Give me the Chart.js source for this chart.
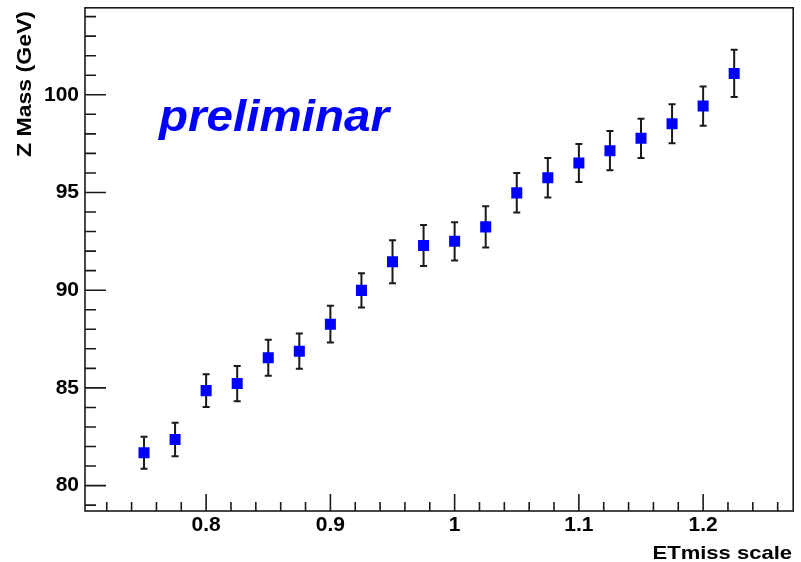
<!DOCTYPE html>
<html>
<head>
<meta charset="utf-8">
<script src="https://cdn.jsdelivr.net/npm/chart.js@4/dist/chart.umd.min.js"></script>
<style>
  html, body { margin: 0; padding: 0; background: #fff; }
  #wrap { width: 801px; height: 562px; position: relative; }
</style>
</head>
<body>
<div id="wrap"><canvas id="c"></canvas></div>
<script>
// ETmiss scale factor vs. fitted Z mass
const etmissScale = [0.75, 0.775, 0.8, 0.825, 0.85, 0.875, 0.9, 0.925, 0.95, 0.975,
                     1.0, 1.025, 1.05, 1.075, 1.1, 1.125, 1.15, 1.175, 1.2, 1.225];
const zMass = [81.68, 82.36, 84.86, 85.22, 86.54, 86.88, 88.26, 89.99, 91.46, 92.29,
               92.50, 93.24, 94.98, 95.75, 96.51, 97.14, 97.77, 98.52, 99.42, 101.09];
const zMassErr = [0.82, 0.86, 0.84, 0.90, 0.92, 0.90, 0.94, 0.87, 1.10, 1.05,
                  0.98, 1.05, 1.01, 1.01, 0.97, 1.00, 1.00, 1.00, 1.00, 1.21];

const xTickValues = [0.8, 0.9, 1, 1.1, 1.2];
const yTickValues = [80, 85, 90, 95, 100];

const xTitle = 'ETmiss scale';
const yTitle = 'Z Mass (GeV)';
const stampText = 'preliminar';

const FONT = '"Liberation Sans", Arial, Helvetica, sans-serif';
const INK = '#1a1a1a';

// draw text squeezed/stretched to a given width
function drawFitted(ctx, text, font, x, y, width, color) {
  ctx.save();
  ctx.font = font;
  ctx.fillStyle = color;
  ctx.textAlign = 'left';
  ctx.textBaseline = 'alphabetic';
  const w = ctx.measureText(text).width;
  ctx.translate(x, y);
  ctx.scale(width / w, 1);
  ctx.fillText(text, 0, 0);
  ctx.restore();
}

const errorBars = {
  id: 'errorBars',
  beforeDatasetsDraw(chart) {
    const { ctx, scales: { x, y } } = chart;
    ctx.save();
    ctx.strokeStyle = INK;
    ctx.lineWidth = 2;
    const cap = 3.5;
    etmissScale.forEach((xv, i) => {
      const px = x.getPixelForValue(xv);
      const top = y.getPixelForValue(zMass[i] + zMassErr[i]);
      const bot = y.getPixelForValue(zMass[i] - zMassErr[i]);
      ctx.beginPath();
      ctx.moveTo(px, top); ctx.lineTo(px, bot);
      ctx.moveTo(px - cap, top); ctx.lineTo(px + cap, top);
      ctx.moveTo(px - cap, bot); ctx.lineTo(px + cap, bot);
      ctx.stroke();
    });
    ctx.restore();
  }
};

const frameAndTicks = {
  id: 'frameAndTicks',
  afterDraw(chart) {
    const { ctx, chartArea: a, scales: { x, y } } = chart;
    ctx.save();
    ctx.strokeStyle = INK;
    ctx.lineWidth = 1.6;
    ctx.strokeRect(a.left, a.top, a.right - a.left, a.bottom - a.top);

    // x-axis ticks: minor every 0.02, major every 0.1
    ctx.beginPath();
    for (let k = 36; k <= 63; k++) {
      const v = k * 0.02;
      if (v < x.min || v > x.max) continue;
      const px = x.getPixelForValue(v);
      const major = k % 5 === 0;
      ctx.moveTo(px, a.bottom);
      ctx.lineTo(px, a.bottom - (major ? 17 : 9));
    }
    // y-axis ticks: minor every 1, major every 5
    for (let v = 79; v <= 104; v++) {
      const py = y.getPixelForValue(v);
      const major = v % 5 === 0;
      ctx.moveTo(a.left, py);
      ctx.lineTo(a.left + (major ? 21 : 11), py);
    }
    ctx.stroke();
    ctx.restore();

    // axis titles
    drawFitted(ctx, xTitle, 'bold 18.6px ' + FONT, 652.5, 559, 139.5, '#000');
    ctx.save();
    ctx.translate(31, 157);
    ctx.rotate(-Math.PI / 2);
    drawFitted(ctx, yTitle, 'bold 19.5px ' + FONT, 0, 0, 146, '#000');
    ctx.restore();

    // stamp
    drawFitted(ctx, stampText, 'italic bold 44px ' + FONT, 159, 131, 230, '#0000ff');
  }
};

function noEdgePadding(s) {
  s.paddingTop = 0; s.paddingBottom = 0;
  s.paddingLeft = 0; s.paddingRight = 0;
}

new Chart(document.getElementById('c'), {
  type: 'scatter',
  data: {
    datasets: [{
      data: etmissScale.map((v, i) => ({ x: v, y: zMass[i] })),
      backgroundColor: '#0000ff',
      borderWidth: 0,
      pointStyle: 'rect',
      pointRadius: 7.8,
      pointHoverRadius: 7.8
    }]
  },
  options: {
    responsive: true,
    maintainAspectRatio: false,
    animation: false,
    events: [],
    layout: { padding: { top: 6, right: 7.5, left: 0, bottom: 0 } },
    plugins: { legend: { display: false }, tooltip: { enabled: false } },
    scales: {
      x: {
        type: 'linear',
        min: 0.7025,
        max: 1.2725,
        grid: { display: false, drawTicks: false },
        border: { display: false },
        afterBuildTicks: s => { s.ticks = xTickValues.map(v => ({ value: v })); },
        afterFit: s => { s.height = 51; noEdgePadding(s); },
        ticks: {
          autoSkip: false,
          maxRotation: 0,
          padding: 2,
          color: '#000',
          font: { family: FONT, size: 21, weight: 'bold' },
          callback: v => String(Number(v.toFixed(2)))
        }
      },
      y: {
        type: 'linear',
        min: 78.7,
        max: 104.45,
        grid: { display: false, drawTicks: false },
        border: { display: false },
        afterBuildTicks: s => { s.ticks = yTickValues.map(v => ({ value: v })); },
        afterFit: s => { s.width = 85; noEdgePadding(s); },
        ticks: {
          autoSkip: false,
          padding: 6,
          color: '#000',
          font: { family: FONT, size: 21, weight: 'bold' },
          callback: v => String(v)
        }
      }
    }
  },
  plugins: [errorBars, frameAndTicks]
});
</script>
</body>
</html>
